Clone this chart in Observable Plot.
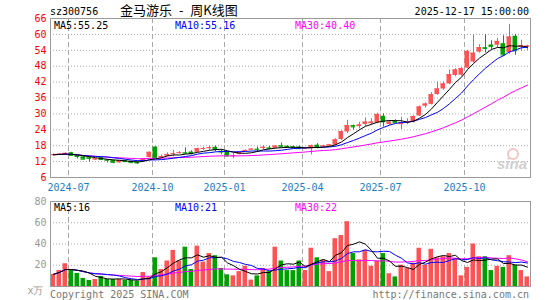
<!DOCTYPE html>
<html><head><meta charset="utf-8">
<script src="https://cdn.jsdelivr.net/npm/d3@7"></script>
<script src="https://cdn.jsdelivr.net/npm/@observablehq/plot@0.6"></script>
<style>
html,body{margin:0;padding:0;background:#fff;}
#wrap{position:relative;width:545px;height:300px;overflow:hidden;background:#fff;font-family:"DejaVu Sans Mono",monospace;font-size:10px;}
.t{position:absolute;white-space:pre;line-height:10px;font-size:10px;font-family:"DejaVu Sans Mono",monospace;}
#price,#vol{position:absolute;left:0;}
#price{top:0;} #vol{top:195px;}
</style></head><body>
<div id="wrap">
  <div id="price"></div>
  <div id="vol"></div>
</div>
<script>
// ---- data (weekly, 2024-06-10 .. 2025-12-15) ----
const open  = [14.3,14.5,14.6,15.35,14.3,13.8,13.5,12.6,13.5,12.7,12.4,11.5,12.3,12.1,11.9,12.2,13.5,17.5,13.6,14.0,
               14.8,15.2,15.4,15.6,15.5,16.8,17.0,17.4,15.9,15.6,14.0,14.7,15.9,16.4,16.7,16.9,17.2,17.0,18.0,17.8,
               17.6,17.5,16.9,16.8,18.2,17.5,17.8,18.2,20.3,23.2,25.6,25.2,26.0,26.3,26.5,29.1,26.0,27.2,25.9,26.4,
               26.9,29.2,32.9,33.6,37.3,39.4,41.3,44.5,44.6,47.3,49.6,53.3,55.0,56.0,55.9,56.5,53.1,59.3,55.2,55.1];
const high  = [14.9,15.1,15.3,15.5,14.4,13.9,13.6,13.1,13.7,12.8,12.5,12.5,12.4,12.2,12.0,13.2,15.6,17.6,14.5,15.3,
               16.3,15.8,17.2,16.1,17.0,17.4,17.8,17.9,16.5,15.7,15.2,15.6,16.4,16.9,17.5,18.0,17.75,18.0,19.0,18.0,
               17.8,17.9,17.3,18.2,18.8,18.2,18.5,20.6,23.6,27.6,25.8,26.8,28.5,28.2,30.2,30.0,27.5,27.8,28.8,28.2,
               29.3,33.0,34.2,38.0,42.0,42.0,46.6,47.0,47.4,54.0,59.9,56.1,59.9,57.6,58.5,59.5,63.8,60.0,57.8,55.9];
const low   = [14.2,14.3,14.5,14.2,13.0,12.8,11.8,12.5,12.7,11.5,11.2,11.4,11.9,11.5,11.0,12.1,13.4,13.4,13.2,13.9,
               13.8,14.9,14.7,14.5,15.4,16.2,16.2,15.7,14.6,14.0,13.1,14.5,15.8,16.3,15.6,16.5,16.5,16.9,17.4,17.2,
               17.0,16.6,16.7,14.5,16.8,17.2,17.6,18.0,20.0,22.6,23.9,24.3,25.3,25.8,26.3,25.0,25.7,26.5,24.1,25.9,
               26.6,29.0,32.2,33.4,37.0,38.9,41.0,44.0,44.3,47.0,49.2,52.9,53.0,54.3,54.8,51.7,52.5,52.1,53.6,54.0];
const close = [14.6,14.8,15.1,14.35,13.9,12.9,13.2,13.0,12.8,12.5,11.7,12.4,12.0,11.6,11.5,13.0,15.5,13.5,13.9,14.7,
               14.95,15.35,15.2,15.0,16.9,16.95,17.2,16.6,15.6,14.1,14.2,15.5,16.2,16.7,16.5,17.4,17.0,17.85,17.5,17.35,
               17.2,16.9,17.1,18.05,17.3,17.9,18.3,20.2,23.3,25.6,25.1,25.8,26.9,26.9,29.8,27.0,26.9,26.7,26.7,26.9,
               29.0,32.6,33.7,37.2,39.4,41.3,44.8,46.6,47.1,53.6,52.9,55.0,54.7,55.4,57.35,52.2,59.0,53.8,55.7,55.55];
const volume = [11.4,15.1,21.4,16,12.3,7.6,5.7,6.6,9.5,6.6,6.6,6.6,5.7,5.7,4.7,13.2,9,27,16,24,
                34,24,37,16,38,23,31,29,17,11,10,14,19,6,10,17,14,37,24,15,
                15,24,15,36,27,25,14,45,48,61,31,25,34,19,24,31,12,9,20,17,
                22,36,20,35,27,28,31,26,10,18,40,28,28,15,19,18,29,20,15,9];
const monthTickIndex = [3, 17, 29, 42, 55, 69];
const monthTickLabel = ["2024-07","2024-10","2025-01","2025-04","2025-07","2025-10"];
const priceTicks = [6,12,18,24,30,36,42,48,54,60,66];
const volumeTicks = [20,40,60,80];
const priceLegend = ["MA5:55.25","MA10:55.16","MA30:40.40"];
const volumeLegend = ["MA5:16","MA10:21","MA30:22"];
const symbol = "sz300756", title = "金马游乐 - 周K线图", stamp = "2025-12-17 15:00:00";

// ---- styles ----
const RED = "#ff5252", GREEN = "#00a000", GRID = "#a8a8a8", FRAME = "#9a9a9a";
const MA_COLORS = ["#000000", "#0000ff", "#ff00ff"];
const MA_K = [5, 10, 30];
const N = close.length;
const bars = d3.range(N).map(i => ({i, o: open[i], h: high[i], l: low[i], c: close[i], v: volume[i], col: close[i] >= open[i] ? RED : GREEN}));
const bx1 = d => d.i + 1/12, bx2 = d => d.i + 10/12, bxc = d => d.i + 0.5;
const font = {fontFamily: "DejaVu Sans Mono, monospace", fontSize: "10px", background: "transparent", overflow: "visible"};

const maLines = (key) => MA_K.map((k, j) =>
  Plot.lineY(bars, Plot.windowY({k, anchor: "end", reduce: "mean", strict: false},
    {x: bxc, y: key, stroke: MA_COLORS[j], strokeWidth: 1}))).reverse();

const pricePlot = Plot.plot({
  width: 545, height: 192, marginTop: 18, marginBottom: 15, marginLeft: 50, marginRight: 15,
  x: {domain: [0, N], axis: null},
  y: {domain: [6, 66], axis: null},
  color: {type: "identity"},
  style: font,
  marks: [
    Plot.ruleY(priceTicks.slice(1, -1), {stroke: GRID, strokeDasharray: "1,2"}),
    Plot.ruleX(monthTickIndex, {x: d => d, stroke: GRID, strokeDasharray: "5,3"}),
    Plot.ruleX(bars, {x: bxc, y1: "l", y2: "h", stroke: "col"}),
    Plot.rect(bars, {x1: bx1, x2: bx2, y1: "o", y2: "c", fill: "col"}),
    Plot.ruleY(bars, {x1: bx1, x2: bx2, y: "c", stroke: "col"}),
    ...maLines("c"),
    Plot.frame({stroke: FRAME}),
    Plot.text(priceTicks, {x: () => 0, y: d => d, text: d => String(d), textAnchor: "end", dx: -4, fill: "#ff0000"}),
    Plot.text(monthTickIndex, {x: d => d, y: () => 6, dy: 10, text: (d, i) => monthTickLabel[i], fill: "#1a7dc9"})
  ]
});
document.getElementById("price").appendChild(pricePlot);

const volPlot = Plot.plot({
  width: 545, height: 105, marginTop: 6, marginBottom: 14, marginLeft: 50, marginRight: 15,
  x: {domain: [0, N], axis: null},
  y: {domain: [0, 80], axis: null},
  color: {type: "identity"},
  style: font,
  marks: [
    Plot.ruleY(volumeTicks.slice(0, -1), {stroke: GRID, strokeDasharray: "1,2"}),
    Plot.ruleX(monthTickIndex, {x: d => d, stroke: GRID, strokeDasharray: "5,3"}),
    Plot.rectY(bars, {x1: bx1, x2: bx2, y: "v", fill: "col"}),
    ...maLines("v"),
    Plot.frame({stroke: FRAME}),
    Plot.text(volumeTicks, {x: () => 0, y: d => d, text: d => String(d), textAnchor: "end", dx: -4, fill: "#999999"}),
    Plot.text(["x万"], {x: () => 0, y: () => 0, text: d => d, textAnchor: "end", dx: -7, dy: 4, fill: "#999999"})
  ]
});
document.getElementById("vol").appendChild(volPlot);

// ---- text overlays ----
const wrap = document.getElementById("wrap");
function addEl(txt, css) {
  const el = document.createElement("div");
  el.className = "t";
  el.textContent = txt;
  Object.assign(el.style, css);
  wrap.appendChild(el);
  return el;
}
addEl(symbol, {left: "50px", top: "7px", color: "#000"});
addEl(title, {left: "120px", top: "3px", fontSize: "13px", lineHeight: "13px", wordSpacing: "4px", fontFamily: "'Noto Sans CJK SC', sans-serif", color: "#000"});
addEl(stamp, {right: "16px", top: "7px", color: "#000"});
const legendX = [54, 175, 295];
priceLegend.forEach((s, j) => addEl(s, {left: legendX[j] + "px", top: "21px", color: MA_COLORS[j]}));
volumeLegend.forEach((s, j) => addEl(s, {left: legendX[j] + "px", top: "203px", color: MA_COLORS[j]}));
addEl("Copyright 2025 SINA.COM", {left: "50px", top: "290px", color: "#777"});
addEl("http://finance.sina.com.cn", {right: "16px", top: "290px", color: "#777"});
addEl("", {left: "507px", top: "148px", width: "8px", height: "8px", borderRadius: "50%", border: "2px solid #f2c6c6"});
addEl("sina", {left: "497px", top: "156px", fontSize: "15px", lineHeight: "15px", fontStyle: "italic", fontWeight: "bold", fontFamily: "'Liberation Sans', sans-serif", color: "#cfcfcf"});
</script>
</body></html>
